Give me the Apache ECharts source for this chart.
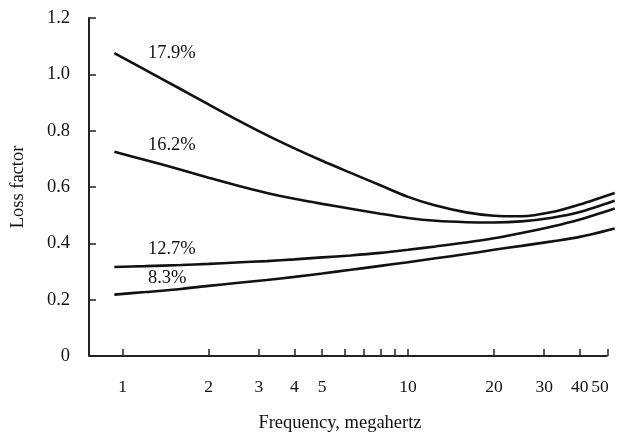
<!DOCTYPE html>
<html>
<head>
<meta charset="utf-8">
<script src="https://cdn.jsdelivr.net/npm/echarts@6/dist/echarts.min.js"></script>
<style>
  html, body { margin: 0; padding: 0; background: #fff; }
  #chart { width: 620px; height: 432px; }
</style>
</head>
<body>
<div id="chart"></div>
<script>
// Frequencies (MHz) at which each curve is sampled
const frequencies = [0.935, 1.2, 1.6, 2, 2.5, 3.2, 4, 5, 6.3, 8, 10, 12.5, 16, 20, 25, 32, 40, 53];

// Loss factor by moisture content
const loss179 = [1.075, 1.016, 0.947, 0.893, 0.840, 0.784, 0.737, 0.693, 0.650, 0.606, 0.565, 0.534, 0.510, 0.498, 0.496, 0.511, 0.538, 0.579];
const loss162 = [0.725, 0.696, 0.661, 0.633, 0.606, 0.579, 0.558, 0.540, 0.523, 0.505, 0.490, 0.480, 0.475, 0.474, 0.478, 0.491, 0.511, 0.551];
const loss127 = [0.316, 0.319, 0.323, 0.327, 0.332, 0.337, 0.343, 0.350, 0.357, 0.366, 0.377, 0.389, 0.403, 0.418, 0.437, 0.460, 0.485, 0.524];
const loss83  = [0.218, 0.227, 0.238, 0.249, 0.259, 0.270, 0.281, 0.293, 0.306, 0.320, 0.333, 0.347, 0.362, 0.377, 0.391, 0.407, 0.423, 0.453];

const seriesNames = ['17.9%', '16.2%', '12.7%', '8.3%'];
const seriesValues = [loss179, loss162, loss127, loss83];
// Where each curve's name is written (frequency, loss factor)
const nameAnchors = [[1.207, 1.075], [1.207, 0.749], [1.207, 0.379], [1.207, 0.277]];

// Axis ticks and labels
const xTickValues = [1, 2, 3, 4, 5, 6, 7, 8, 9, 10, 20, 30, 40, 50];
const xLabelValues = [1, 2, 3, 4, 5, 10, 20, 30, 40, 50];
const yTickLabels = ['0', '0.2', '0.4', '0.6', '0.8', '1.0', '1.2'];
// Drawn extent of the frequency axis line
const xAxisSpan = [0.762, 50];

const ink = '#111';
const axisInk = '#222';
const serif = '"Liberation Serif", "Times New Roman", serif';
const fontSize = 18.5;
const xLabelSize = 17.5;

const chart = echarts.init(document.getElementById('chart'), null, { renderer: 'canvas' });

const series = seriesNames.map((name, i) => ({
  name: name,
  type: 'line',
  smooth: 0.3,
  symbol: 'none',
  lineStyle: { color: ink, width: 2.6 },
  data: frequencies.map((f, j) => [f, seriesValues[i][j]]),
  markPoint: {
    symbol: 'circle',
    symbolSize: 2,
    silent: true,
    itemStyle: { color: 'rgba(0,0,0,0)' },
    data: [{
      coord: nameAnchors[i],
      label: {
        show: true,
        formatter: name,
        position: 'right',
        distance: 1,
        color: ink,
        fontFamily: serif,
        fontSize: fontSize
      }
    }]
  }
}));

// Frequency axis line, ending at the 50 MHz tick
series[0].markLine = {
  symbol: 'none',
  silent: true,
  label: { show: false },
  lineStyle: { color: axisInk, width: 2, type: 'solid' },
  data: [[{ coord: [xAxisSpan[0], 0] }, { coord: [xAxisSpan[1], 0] }]]
};

chart.setOption({
  animation: false,
  backgroundColor: '#fff',
  grid: { left: 89, right: 3, top: 18, bottom: 76, containLabel: false, outerBoundsMode: 'none' },
  xAxis: {
    type: 'log',
    logBase: 10,
    min: 0.762,
    max: 54,
    name: 'Frequency, megahertz',
    nameLocation: 'middle',
    nameGap: 58,
    nameTextStyle: { color: ink, fontFamily: serif, fontSize: fontSize, padding: [0, 26, 0, 0] },
    axisLine: { show: false },
    axisTick: { show: true, inside: true, length: 7, lineStyle: { color: axisInk, width: 1.5 }, customValues: xTickValues },
    axisLabel: {
      color: ink, fontFamily: serif, fontSize: xLabelSize, margin: 22,
      customValues: xLabelValues,
      // the last label sits left of its tick, inside the frame
      formatter: v => (v === 50 ? '{last|50}' : String(v)),
      rich: { last: { fontFamily: serif, fontSize: xLabelSize, color: ink, padding: [0, 15, 0, 0] } }
    },
    splitLine: { show: false },
    minorTick: { show: false }
  },
  yAxis: {
    type: 'value',
    min: 0,
    max: 1.2,
    interval: 0.2,
    name: 'Loss factor',
    nameLocation: 'middle',
    nameGap: 61,
    nameTextStyle: { color: ink, fontFamily: serif, fontSize: fontSize },
    axisLine: { show: true, lineStyle: { color: axisInk, width: 2 } },
    axisTick: { show: true, inside: true, length: 7, lineStyle: { color: axisInk, width: 1.5 } },
    axisLabel: {
      color: ink, fontFamily: serif, fontSize: fontSize, margin: 19,
      formatter: v => yTickLabels[Math.round(v / 0.2)]
    },
    splitLine: { show: false }
  },
  series: series
});
</script>
</body>
</html>
